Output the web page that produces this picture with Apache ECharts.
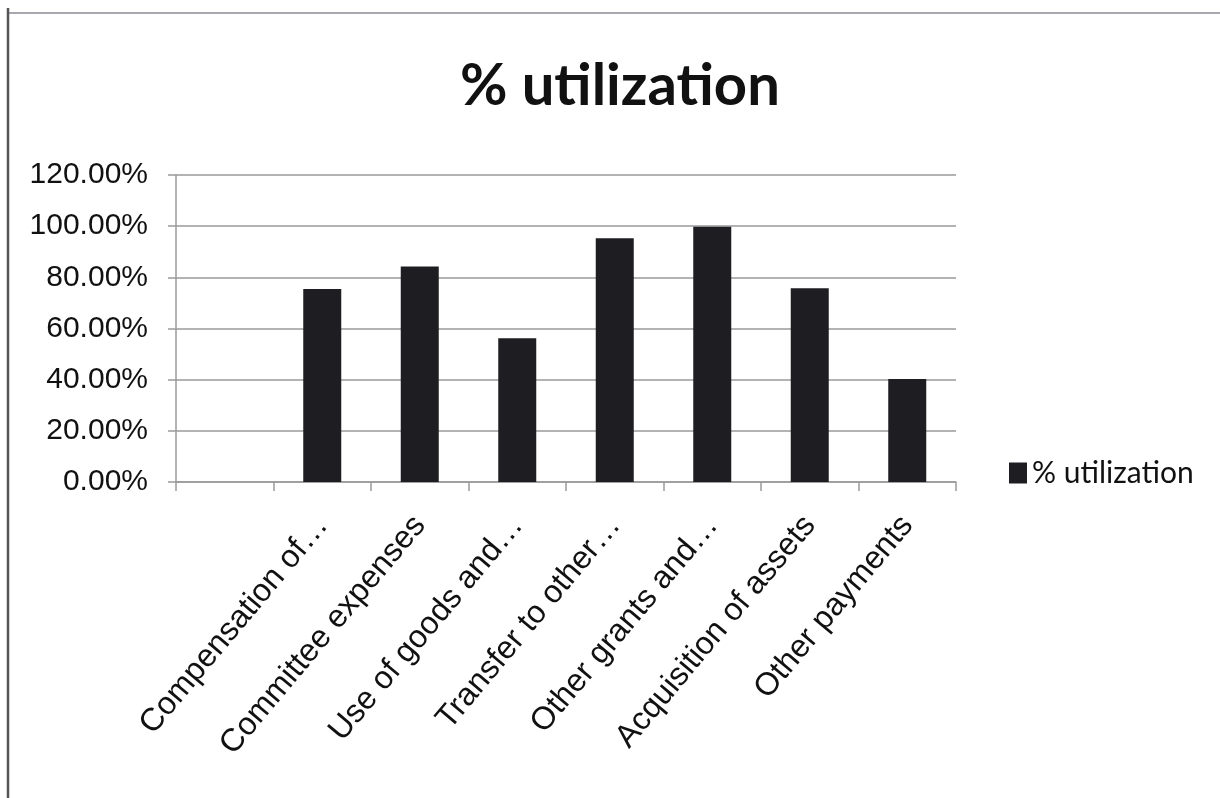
<!DOCTYPE html>
<html>
<head>
<meta charset="utf-8">
<script src="https://cdn.jsdelivr.net/npm/echarts@6/dist/echarts.min.js"></script>
<style>
  html, body { margin: 0; padding: 0; background: #fff; }
  #main { width: 1220px; height: 798px; }
</style>
</head>
<body>
<div id="main"></div>
<script type="text/javascript">
    // data (first slot is empty in the original)
    var categories = ['', 'Compensation of\u2026', 'Committee expenses', 'Use of goods and\u2026',
        'Transfer to other\u2026', 'Other grants and\u2026', 'Acquisition of assets', 'Other payments'];
    var utilization = [null, 75.4, 84.2, 56.2, 95.3, 99.8, 75.7, 40.3];
    var seriesName = '% utilization';

    var myChart = echarts.init(document.getElementById('main'));

    var option = {
        backgroundColor: '#ffffff',
        animation: false,
        title: {
            text: '% utilization',
            left: 455,
            top: 52,
            textStyle: {
                fontFamily: 'Lato',
                fontWeight: 'bold',
                fontSize: 58,
                color: '#111'
            }
        },
        legend: {
            data: [seriesName],
            orient: 'vertical',
            left: 1004,
            top: 453,
            itemWidth: 18,
            itemHeight: 21,
            itemGap: 8,
            icon: 'rect',
            textStyle: {
                fontFamily: 'Lato',
                fontSize: 30,
                color: '#111',
                padding: [0, 0, 0, 0]
            }
        },
        grid: {
            left: 176,
            right: 264,
            top: 175,
            bottom: 316,
            containLabel: false
        },
        xAxis: {
            type: 'category',
            data: categories,
            axisLine: { lineStyle: { color: '#9a9a9a', width: 1.5 } },
            axisTick: { show: true, length: 9, lineStyle: { color: '#9a9a9a', width: 1.5 } },
            axisLabel: {
                rotate: 50,
                margin: 38,
                interval: 0,
                fontFamily: 'Liberation Sans',
                fontSize: 32,
                color: '#111'
            }
        },
        yAxis: {
            type: 'value',
            min: 0,
            max: 120,
            interval: 20,
            axisLine: { show: true, lineStyle: { color: '#9a9a9a', width: 1.5 } },
            axisTick: { show: true, inside: false, length: 8, lineStyle: { color: '#9a9a9a', width: 1.5 } },
            splitLine: { lineStyle: { color: '#9a9a9a', width: 1.5 } },
            axisLabel: {
                margin: 28,
                fontFamily: 'Liberation Sans',
                fontSize: 30,
                color: '#111',
                formatter: function (v) { return v.toFixed(2) + '%'; }
            }
        },
        series: [{
            name: seriesName,
            type: 'bar',
            data: utilization,
            barWidth: 38,
            itemStyle: { color: '#1e1e22' }
        }],
        graphic: [
            // scanned frame edges
            { type: 'line', shape: { x1: 8, y1: 13, x2: 1220, y2: 13 }, style: { stroke: '#a8a8b0', lineWidth: 2 } },
            { type: 'line', shape: { x1: 8, y1: 8, x2: 8, y2: 798 }, style: { stroke: '#555', lineWidth: 2.5 } }
        ]
    };

    myChart.setOption(option);
</script>
</body>
</html>
